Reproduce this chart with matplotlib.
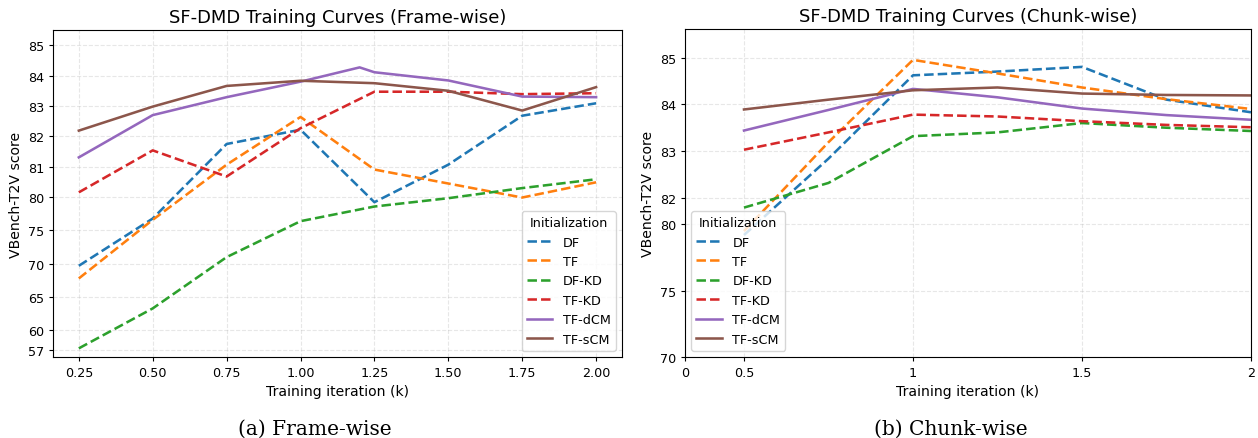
import matplotlib
matplotlib.use("Agg")
import matplotlib.pyplot as plt
import numpy as np

# ---- data ----
names = ['DF', 'TF', 'DF-KD', 'TF-KD', 'TF-dCM', 'TF-sCM']
colors = ['#1f77b4', '#ff7f0e', '#2ca02c', '#d62728', '#9467bd', '#8c564b']
styles = ['--', '--', '--', '--', '-', '-']

# (a) frame-wise
frame_x = [0.25, 0.50, 0.75, 1.00, 1.25, 1.50, 1.75, 2.00]
frame_dcm_x = [0.25, 0.50, 0.75, 1.00, 1.20, 1.25, 1.50, 1.75, 2.00]
frame_df = [69.7, 76.8, 81.75, 82.22, 79.25, 81.07, 82.68, 83.09]
frame_tf = [67.8, 76.6, 81.07, 82.64, 80.91, 80.45, 79.95, 80.49]
frame_dfkd = [57.3, 63.3, 71.0, 76.4, 78.6, 79.85, 80.3, 80.59]
frame_tfkd = [80.16, 81.54, 80.68, 82.27, 83.47, 83.47, 83.39, 83.42]
frame_dcm = [81.31, 82.70, 83.29, 83.80, 84.27, 84.11, 83.84, 83.31, 83.29]
frame_scm = [82.19, 82.98, 83.66, 83.83, 83.75, 83.50, 82.85, 83.62]

# (b) chunk-wise
chunk_x = [0.50, 0.75, 1.00, 1.25, 1.50, 1.75, 2.00]
chunk_df = [79.2, 82.84, 84.62, 84.70, 84.80, 84.10, 83.83]
chunk_tf = [79.5, 83.19, 84.95, 84.66, 84.36, 84.11, 83.90]
chunk_dfkd = [81.27, 82.32, 83.32, 83.40, 83.60, 83.50, 83.43]
chunk_tfkd = [83.03, 83.40, 83.78, 83.74, 83.64, 83.56, 83.51]
chunk_dcm = [83.44, 83.88, 84.33, 84.15, 83.91, 83.77, 83.67]
chunk_scm = [83.89, 84.10, 84.30, 84.36, 84.23, 84.20, 84.19]

frame_yticks = [57, 60, 65, 70, 75, 80, 81, 82, 83, 84, 85]
chunk_yticks = [70, 75, 80, 82, 83, 84, 85]
chunk_xticks = [0, 0.5, 1, 1.5, 2]
chunk_xticklabels = ['0', '0.5', '1', '1.5', '2']


def piecewise(brk, k):
    """brk より下を 1/k に圧縮するスケール"""
    def fwd(v):
        v = np.asarray(v, dtype=float)
        return np.where(v >= brk, v, brk + (v - brk) / k)

    def inv(v):
        v = np.asarray(v, dtype=float)
        return np.where(v >= brk, v, brk + (v - brk) * k)
    return fwd, inv


fig = plt.figure(figsize=(12.58, 4.39), dpi=100)
ax1 = fig.add_axes([0.0421, 0.1845, 0.4523, 0.7449])
ax2 = fig.add_axes([0.5445, 0.1845, 0.4499, 0.7472])

S = 0.92  # 全体の縮尺
FS_TICK = 10 * S
FS_LABEL = 11 * S
FS_TITLE = 14 * S
LW = 2 * S

# ---- (a) ----
frame_series = [(frame_x, frame_df), (frame_x, frame_tf), (frame_x, frame_dfkd),
                (frame_x, frame_tfkd), (frame_dcm_x, frame_dcm), (frame_x, frame_scm)]
for (xs, ys), name, c, ls in zip(frame_series, names, colors, styles):
    ax1.plot(xs, ys, ls, color=c, lw=LW, label=name)

ax1.set_yscale('function', functions=piecewise(80, 4.566))
ax1.set_ylim(56, 85.5)
ax1.set_yticks(frame_yticks)
ax1.set_yticklabels([str(t) for t in frame_yticks])
ax1.set_xticks(frame_x)
ax1.set_xticklabels([f'{t:.2f}' for t in frame_x])

# ---- (b) ----
chunk_series = [chunk_df, chunk_tf, chunk_dfkd, chunk_tfkd, chunk_dcm, chunk_scm]
for ys, name, c, ls in zip(chunk_series, names, colors, styles):
    ax2.plot(chunk_x, ys, ls, color=c, lw=LW, label=name)

ax2.set_yscale('function', functions=piecewise(82, 3.53))
ax2.set_xscale('function', functions=piecewise(0.5, 2.864))
ax2.set_ylim(70, 85.61)
ax2.set_xlim(0, 2)
ax2.set_yticks(chunk_yticks)
ax2.set_yticklabels([str(t) for t in chunk_yticks])
ax2.set_xticks(chunk_xticks)
ax2.set_xticklabels(chunk_xticklabels)

titles = ['SF-DMD Training Curves (Frame-wise)', 'SF-DMD Training Curves (Chunk-wise)']
locs = ['lower right', 'lower left']
for ax, title, loc in zip((ax1, ax2), titles, locs):
    ax.set_title(title, fontsize=FS_TITLE, pad=6 * S)
    ax.set_xlabel('Training iteration (k)', fontsize=FS_LABEL, labelpad=4 * S)
    ax.set_ylabel('VBench-T2V score', fontsize=FS_LABEL, labelpad=4 * S)
    ax.legend(title='Initialization', loc=loc, fontsize=FS_TICK,
              title_fontsize=FS_TICK)
    ax.grid(True, linestyle='--', alpha=0.3)
    ax.tick_params(labelsize=FS_TICK, length=3.5 * S, pad=3.5 * S)
    ax.minorticks_off()

# サブキャプション
fig.text(0.25, 0.0, '(a) Frame-wise', ha='center', va='bottom',
         family='DejaVu Serif', fontsize=14.5)
fig.text(0.756, 0.0, '(b) Chunk-wise', ha='center', va='bottom',
         family='DejaVu Serif', fontsize=14.5)

fig.savefig('out.png', dpi=100)
